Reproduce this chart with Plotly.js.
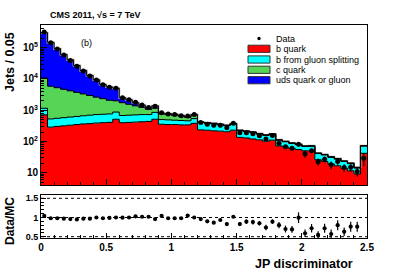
<!DOCTYPE html>
<html><head><meta charset="utf-8">
<script src="https://cdn.plot.ly/plotly-3.0.1.min.js"></script>
<style>html,body{margin:0;padding:0;background:#fff}#c{width:407px;height:274px}</style>
</head><body><div id="c"></div>
<script>
const binWidth = 0.05;
const bQuark = [708, 288, 302, 316, 331, 347, 363, 372, 389, 398, 407, 513,
  398, 407, 417, 427, 437, 513, 355, 347, 347, 339, 339, 380,
  234, 229, 219, 214, 204, 229, 135, 129, 120, 112, 102, 110,
  72, 66, 60, 55, 50, 50, 26, 23, 19, 16.6, 13.8, 11.5, 9.1, 41.7];
const bGluon = [440, 237, 248, 259, 272, 284, 298, 320, 335, 343, 352, 358,
  278, 285, 291, 297, 287, 338, 146, 143, 132, 129, 118, 157,
  170, 157, 150, 130, 117, 133, 88, 80, 75, 61, 55, 59,
  38, 32, 27, 24, 19, 20, 15, 14, 12, 10.6, 9, 8, 5, 30];
const cQuark = [9567, 5363, 4698, 4102, 3566, 3084, 2650, 2259, 1906, 1603, 1330, 1124,
  1062, 857, 672, 506, 348, 324, 258, 234, 213, 178, 132, 155,
  10, 9, 8, 8, 7, 7, 4, 4, 4, 4, 4, 4,
  2, 2, 2, 2, 2, 2, 1, 1, 1, 0.8, 0.6, 0.5, 0.4, 0.7];
const udsg = [291300, 142000, 88050, 55580, 36570, 23200, 15310, 9930, 6703, 4263, 3406, 3017,
  774, 589, 358, 215, 130, 205, 35, 52, 49, 30, 28, 32,
  3, 3, 3, 3, 3, 3, 2, 1, 1, 1, 1, 1,
  0.5, 0.5, 0.5, 0.5, 0.5, 0.5, 0.3, 0.3, 0.3, 0.3, 0.3, 0.3, 0.3, 0.5];
const dataVals = [316000, 145000, 91400, 58450, 39110, 25570, 18060, 12490, 9330, 6475, 5440, 5010,
  2500, 2138, 1790, 1474, 1226, 1325, 826, 760, 726, 662, 648, 724,
  404, 358, 329, 332, 275, 379, 190, 190, 176, 151, 120, 155,
  88, 68, 60, 81, 40, 50, 22.5, 27, 18, 23, 14.6, 15, 11, 29];
const dataErr = [1500, 700, 450, 300, 200, 130, 90, 60, 50, 35, 30, 30,
  15, 14, 12, 11, 10, 11, 12, 12, 11, 11, 11, 12,
  12, 11, 11, 11, 10, 12, 12, 12, 11, 10, 10, 11,
  10, 9, 8, 14, 10, 8, 6, 6, 5, 6, 4, 4, 3.5, 13];
const ratioVals = [1.04, 0.98, 0.98, 0.97, 0.96, 0.95, 0.97, 0.97, 1.00, 0.98, 0.99, 1.00,
  0.995, 1.00, 1.03, 1.02, 1.02, 0.96, 1.04, 0.98, 0.98, 0.98, 1.05, 1.00,
  0.96, 0.90, 0.865, 0.935, 0.83, 1.02, 0.83, 0.89, 0.88, 0.85, 0.74, 0.89,
  0.80, 0.70, 0.69, 0.995, 0.59, 0.72, 0.545, 0.72, 0.57, 0.80, 0.63, 0.76, 0.76, null];
const ratioErr = [0.005, 0.005, 0.005, 0.005, 0.005, 0.005, 0.005, 0.005, 0.005, 0.005, 0.005, 0.005,
  0.01, 0.01, 0.01, 0.01, 0.01, 0.01, 0.015, 0.015, 0.015, 0.015, 0.015, 0.015,
  0.03, 0.03, 0.035, 0.035, 0.04, 0.035, 0.05, 0.06, 0.06, 0.06, 0.07, 0.06,
  0.08, 0.09, 0.09, 0.14, 0.10, 0.11, 0.10, 0.12, 0.12, 0.13, 0.11, 0.13, 0.13, 0];
const xTickVals = [0, 0.5, 1, 1.5, 2, 2.5];
const xTickText = ['0', '0.5', '1', '1.5', '2', '2.5'];
const yTickVals = [10, 100, 1000, 10000, 100000];
const yTickText = ['10', '10<sup>2</sup>', '10<sup>3</sup>', '10<sup>4</sup>', '10<sup>5</sup>'];
const legendLabels = ['Data', 'b quark', 'b from gluon splitting', 'c quark', 'uds quark or gluon'];
const colors = ['#ff0000', '#00ffff', '#55d455', '#0000ff'];

const N = bQuark.length;
const centers = [], edges = [];
for (let i = 0; i <= N; i++) edges.push(i * binWidth);
for (let i = 0; i < N; i++) centers.push((i + 0.5) * binWidth);
const comps = [bQuark, bGluon, cQuark, udsg];
const cums = [];
let run = new Array(N).fill(0);
comps.forEach(c => { run = run.map((v, i) => v + c[i]); cums.push(run.slice()); });
const step = a => a.concat([a[a.length - 1]]);

const traces = [];
comps.forEach((c, k) => traces.push({
  type: 'bar', x: centers, y: c, width: binWidth, xaxis: 'x', yaxis: 'y',
  marker: {color: colors[k], line: {color: colors[k], width: 0.5}}, hoverinfo: 'skip'
}));
traces.push({type: 'scatter', mode: 'lines', x: edges, y: step(cums[3]), xaxis: 'x', yaxis: 'y',
  line: {shape: 'hv', color: '#aaa', width: 2}, hoverinfo: 'skip'});
cums.forEach(c => traces.push({type: 'scatter', mode: 'lines', x: edges, y: step(c), xaxis: 'x', yaxis: 'y',
  line: {shape: 'hv', color: '#000', width: 1}, hoverinfo: 'skip'}));
traces.push({type: 'scatter', mode: 'markers', x: centers, y: dataVals, xaxis: 'x', yaxis: 'y',
  marker: {color: '#000', size: 5},
  error_y: {type: 'data', array: dataErr, color: '#000', thickness: 1.2, width: 0}});
traces.push({type: 'scatter', mode: 'markers', x: centers, y: ratioVals, xaxis: 'x2', yaxis: 'y2',
  marker: {color: '#000', size: 4.2},
  error_y: {type: 'data', array: ratioErr, color: '#000', thickness: 1.2, width: 0}});

// pixel -> paper helpers (plot area: x 41..367, y 25..238)
const L = 41, W = 326, B = 238, H = 213;
const px = p => (p - L) / W, py = p => (B - p) / H;

const minorLog = [];
for (let e = 0; e <= 5; e++) for (let m = 2; m <= 9; m++) minorLog.push(m * Math.pow(10, e));

const tickFont = {family: 'Liberation Sans', size: 10, color: '#000', weight: 'bold'};
const shapes = [0.5, 1, 1.5].map(v => ({type: 'line', xref: 'x2', yref: 'y2', x0: 0, x1: 2.5, y0: v, y1: v,
  line: {color: '#000', width: 1, dash: 'dot'}, layer: 'below'}));
const annotations = [
  {text: 'CMS 2011, √s = 7 TeV', xref: 'paper', yref: 'paper', x: px(48), y: py(15), xanchor: 'left', yanchor: 'middle',
   showarrow: false, font: {family: 'Liberation Sans', size: 9, color: '#000', weight: 'bold'}},
  {text: '(b)', xref: 'paper', yref: 'paper', x: px(86), y: py(43), xanchor: 'center', yanchor: 'middle',
   showarrow: false, font: {family: 'Liberation Sans', size: 9, color: '#000'}},
  {text: 'Jets / 0.05', xref: 'paper', yref: 'paper', x: px(10), y: py(62), textangle: -90, xanchor: 'center', yanchor: 'middle',
   showarrow: false, font: {family: 'Liberation Sans', size: 12.5, color: '#000', weight: 'bold'}},
  {text: 'Data/MC', xref: 'paper', yref: 'paper', x: px(10), y: py(221), textangle: -90, xanchor: 'center', yanchor: 'middle',
   showarrow: false, font: {family: 'Liberation Sans', size: 12, color: '#000', weight: 'bold'}},
  {text: 'JP discriminator', xref: 'paper', yref: 'paper', x: px(304), y: py(264), xanchor: 'center', yanchor: 'middle',
   showarrow: false, font: {family: 'Liberation Sans', size: 12.5, color: '#000', weight: 'bold'}}
];
// legend
const rowsY = [38.5, 48.8, 59.5, 69.8, 80.2];
legendLabels.forEach((t, i) => {
  annotations.push({text: t, xref: 'paper', yref: 'paper', x: px(274), y: py(rowsY[i]), xanchor: 'left', yanchor: 'middle',
    showarrow: false, font: {family: 'Liberation Sans', size: 9, color: '#000'}});
  if (i === 0) {
    shapes.push({type: 'circle', xref: 'paper', yref: 'paper', x0: px(257.3), x1: px(260.7), y0: py(rowsY[0] + 1.7), y1: py(rowsY[0] - 1.7),
      fillcolor: '#000', line: {color: '#000', width: 0}, layer: 'above'});
  } else {
    shapes.push({type: 'rect', xref: 'paper', yref: 'paper', x0: px(248), x1: px(270), y0: py(rowsY[i] + 3.6), y1: py(rowsY[i] - 3.6),
      fillcolor: colors[i - 1], line: {color: '#333', width: 1}, layer: 'above'});
  }
});

const layout = {
  width: 407, height: 274, margin: {l: L, r: 407 - L - W, t: 25, b: 274 - B},
  paper_bgcolor: '#fff', plot_bgcolor: '#fff', showlegend: false,
  barmode: 'stack', bargap: 0,
  xaxis: {domain: [0, 1], anchor: 'y', range: [0, 2.5], showticklabels: false, tickvals: xTickVals,
    ticks: 'inside', ticklen: 6, tickcolor: '#000', minor: {dtick: 0.1, tick0: 0, ticks: 'inside', ticklen: 3, tickcolor: '#000'},
    showline: true, mirror: true, linecolor: '#000', linewidth: 1, showgrid: false, zeroline: false},
  yaxis: {domain: [(B - 185) / H, 1], anchor: 'x', type: 'log', range: [0.606, 5.726],
    tickvals: yTickVals, ticktext: yTickText, ticks: 'inside', ticklen: 6, tickcolor: '#000',
    minor: {tickvals: minorLog, ticks: 'inside', ticklen: 3, tickcolor: '#000'},
    tickfont: tickFont, showline: true, mirror: true, linecolor: '#000', linewidth: 1, showgrid: false, zeroline: false},
  xaxis2: {domain: [0, 1], anchor: 'y2', range: [0, 2.5], tickvals: xTickVals, ticktext: xTickText,
    ticks: 'inside', ticklen: 5, tickcolor: '#000', minor: {dtick: 0.1, tick0: 0, ticks: 'inside', ticklen: 3, tickcolor: '#000'},
    tickfont: tickFont, showline: true, mirror: true, linecolor: '#000', linewidth: 1, showgrid: false, zeroline: false},
  yaxis2: {domain: [0, (B - 195) / H], anchor: 'x2', range: [0.466, 1.586], tickvals: [0.5, 1, 1.5], ticktext: ['0.5', '1', '1.5'],
    ticks: 'inside', ticklen: 5, tickcolor: '#000', minor: {dtick: 0.1, tick0: 0, ticks: 'inside', ticklen: 3, tickcolor: '#000'},
    tickfont: {family: 'Liberation Sans', size: 9, color: '#000', weight: 'bold'},
    showline: true, mirror: true, linecolor: '#000', linewidth: 1, showgrid: false, zeroline: false},
  shapes: shapes, annotations: annotations
};
Plotly.newPlot('c', traces, layout, {staticPlot: true, displayModeBar: false});
</script></body></html>
